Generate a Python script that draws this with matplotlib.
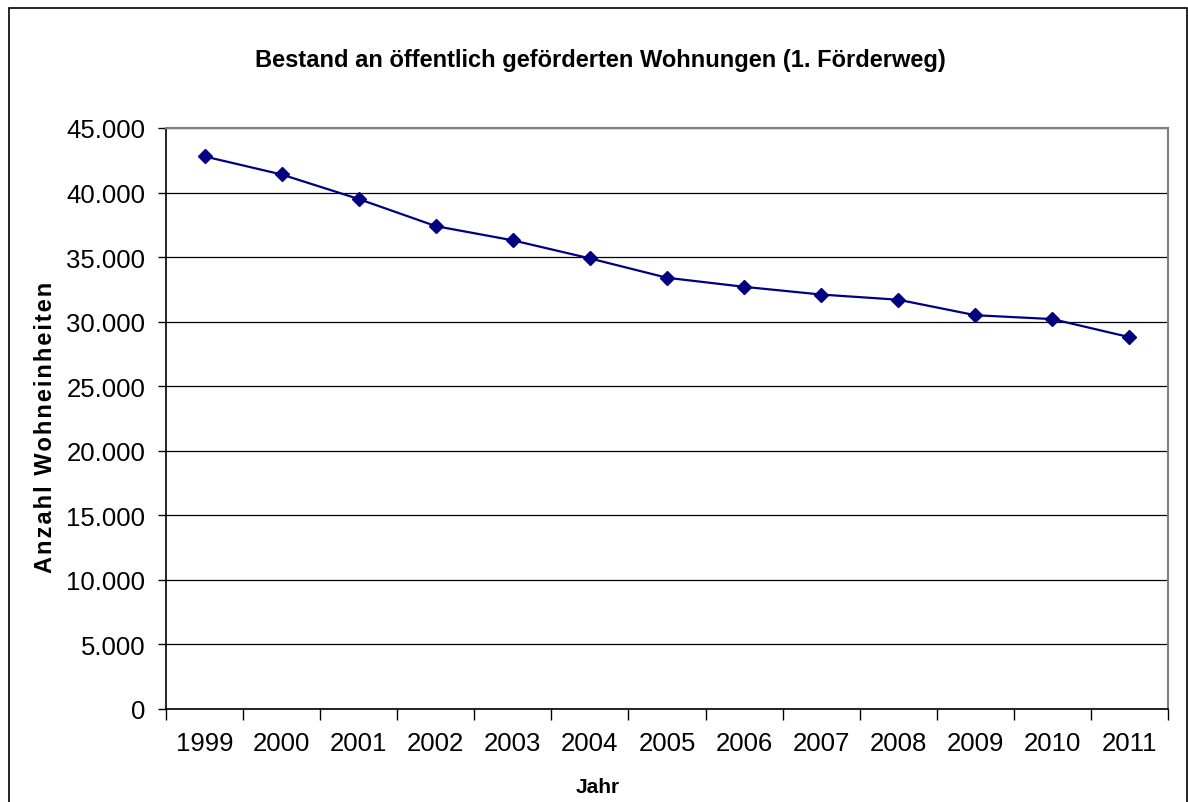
import numpy as np
import matplotlib.pyplot as plt
from matplotlib.patches import Rectangle
from matplotlib.ticker import FuncFormatter

plt.rcParams['font.family'] = ['Liberation Sans', 'DejaVu Sans']

# data
years = ['1999', '2000', '2001', '2002', '2003', '2004', '2005',
         '2006', '2007', '2008', '2009', '2010', '2011']
bestand = [42800, 41400, 39500, 37400, 36300, 34900, 33400,
           32700, 32100, 31700, 30500, 30200, 28800]

title = 'Bestand an öffentlich geförderten Wohnungen (1. Förderweg)'
ylabel = 'Anzahl Wohneinheiten'
navy = '#000080'

fig = plt.figure(figsize=(11.88, 8.03), dpi=100)
ax = fig.add_axes([166/1188, 1 - 710/803, (1168 - 166)/1188, (710 - 129)/803])

x = np.arange(len(years))
ax.plot(x, bestand, color=navy, lw=1.6, marker='D', ms=7, mfc=navy, mec=navy, zorder=3)

ax.set_ylim(0, 45000)
ax.set_yticks(np.arange(0, 45001, 5000))
ax.yaxis.set_major_formatter(FuncFormatter(lambda v, p: f'{int(v):,}'.replace(',', '.')))
ax.grid(axis='y', color='black', lw=0.9)
ax.set_axisbelow(True)

# excel-style category axis: ticks between categories, labels centred
ax.set_xlim(-0.5, len(years) - 0.5)
ax.set_xticks(np.arange(-0.5, len(years), 1.0))
ax.set_xticklabels([])
ax.set_xticks(x, minor=True)
ax.set_xticklabels(years, minor=True)
ax.tick_params(axis='x', which='major', length=8, width=1, direction='out')
ax.tick_params(axis='x', which='minor', length=0, pad=16, labelsize=18.5)
ax.tick_params(axis='y', length=6, width=1, direction='out', pad=9, labelsize=18.5)

for s in ['left', 'bottom']:
    ax.spines[s].set_color('black')
    ax.spines[s].set_linewidth(1.2)
for s in ['top', 'right']:
    ax.spines[s].set_color('#808080')
    ax.spines[s].set_linewidth(1.5)

fig.text(600/1188, 1 - 61/803, title, ha='center', va='center',
         fontsize=17, fontweight='bold')
# slight letter spacing like the original
fig.text(46/1188, 1 - 427/803, '\u200a'.join(ylabel),
         rotation=90, ha='center', va='center', fontsize=17, fontweight='bold')
fig.text(598/1188, 1 - 788/803, 'Jahr', ha='center', va='center',
         fontsize=15, fontweight='bold')

# chart area border
fig.patches.append(Rectangle((9/1188, -0.05), (1187 - 9)/1188, 1.05 - 9/803,
                             transform=fig.transFigure, fill=False,
                             edgecolor='black', lw=1.2))

fig.savefig('out.png', dpi=100)
